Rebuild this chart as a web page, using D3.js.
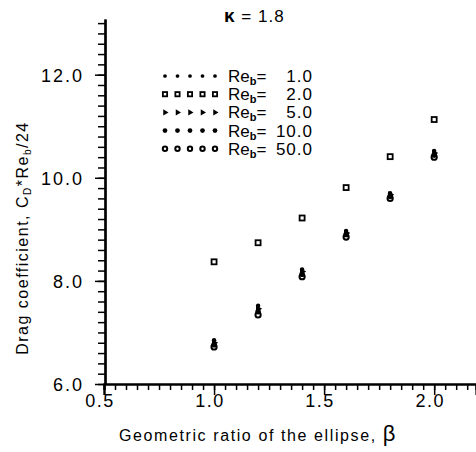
<!DOCTYPE html>
<html>
<head>
<meta charset="utf-8">
<script src="https://cdn.jsdelivr.net/npm/d3@7"></script>
<style>
body { margin: 0; background: #fff; }
svg { font-family: "Liberation Sans", Arial, sans-serif; }
</style>
</head>
<body>
<svg width="476" height="452"></svg>
<script>
// geometric ratio of the ellipse
const betas = [1.0, 1.2, 1.4, 1.6, 1.8, 2.0];
const reLabels = ['1.0', '2.0', '5.0', '10.0', '50.0'];
const re1 = [6.85, 7.52, 8.22, 8.97, 9.70, 10.52];
const re2 = [8.37, 8.74, 9.22, 9.81, 10.41, 11.13];
const re5 = [6.80, 7.46, 8.18, 8.93, 9.67, 10.48];
const re10 = [6.76, 7.40, 8.13, 8.90, 9.64, 10.44];
const re50 = [6.72, 7.34, 8.08, 8.85, 9.60, 10.40];
const xTicks = [0.5, 1.0, 1.5, 2.0];
const xTickLabels = ['0.5', '1.0', '1.5', '2.0'];
const yTicks = [6, 8, 10, 12];

const series = [re1, re2, re5, re10, re50];
const markerKind = ['dot', 'square', 'tri', 'disc', 'ring'];

const svg = d3.select('svg');
const x = d3.scaleLinear().domain([0.5, 2.19]).range([104, 476]);
const y = d3.scaleLinear().domain([6, 13.08]).range([384, 19]);

// axes
const xAxis = svg.append('g').attr('transform', 'translate(0,384)');
xAxis.call(d3.axisBottom(x).tickValues(d3.range(0.5, 2.19, 0.05)).tickSize(6).tickFormat(''));
xAxis.append('g').call(d3.axisBottom(x).tickValues(xTicks).tickSize(11).tickFormat(''));
xAxis.selectAll('.domain').attr('stroke-width', 2.2);
xAxis.selectAll('line').attr('stroke-width', 1.5);

const yAxis = svg.append('g').attr('transform', 'translate(105,0)');
yAxis.call(d3.axisLeft(y).tickValues(d3.range(6, 13.01, 0.2)).tickSize(7).tickFormat('').tickSizeOuter(0));
yAxis.append('g').call(d3.axisLeft(y).tickValues(yTicks).tickSize(10).tickFormat('').tickSizeOuter(0));
yAxis.selectAll('.domain').attr('stroke-width', 2.2);
yAxis.selectAll('line').attr('stroke-width', 1.5);

svg.selectAll('.xlab').data(xTicks).join('text')
    .attr('x', d => x(d) - 4).attr('y', 407)
    .attr('text-anchor', 'middle').attr('font-size', 18).attr('letter-spacing', 1.5)
    .text((d, i) => xTickLabels[i]);

svg.selectAll('.ylab').data(yTicks).join('text')
    .attr('x', 84).attr('y', d => y(d) + 7)
    .attr('text-anchor', 'end').attr('font-size', 18).attr('letter-spacing', 2)
    .text(d => d.toFixed(1));

// axis titles
svg.append('text').attr('x', 119).attr('y', 441).attr('font-size', 16)
    .attr('letter-spacing', 1.6)
    .text('Geometric ratio of the ellipse, ')
    .append('tspan').attr('font-size', 22).text('β');

const yt = svg.append('text').attr('transform', 'translate(28,238) rotate(-90)')
    .attr('text-anchor', 'middle').attr('font-size', 16).attr('letter-spacing', 1.5);
yt.append('tspan').text('Drag coefficient,  C');
yt.append('tspan').attr('font-size', 10).attr('dy', 3).text('D');
yt.append('tspan').attr('dy', -3).text('*Re');
yt.append('tspan').attr('font-size', 10).attr('dy', 3).text('b');
yt.append('tspan').attr('dy', -3).text('/24');

// title
const tt = svg.append('text').attr('x', 224).attr('y', 22).attr('font-size', 17).attr('letter-spacing', 1);
tt.append('tspan').attr('font-weight', 'bold').attr('font-size', 19).text('κ');
tt.append('tspan').text(' = 1.8');

function drawMarker(g, kind, size) {
    const s = size || 1;
    if (kind == 'dot') {
        g.append('circle').attr('r', 2.2 * s).attr('fill', '#000');
    } else if (kind == 'square') {
        g.append('rect').attr('x', -2.5 * s).attr('y', -2.5 * s).attr('width', 5 * s).attr('height', 5 * s)
            .attr('fill', 'none').attr('stroke', '#000').attr('stroke-width', 1.8);
    } else if (kind == 'tri') {
        g.append('path').attr('d', d3.symbol(d3.symbolTriangle, 22 * s * s)).attr('transform', 'rotate(90)').attr('fill', '#000');
    } else if (kind == 'disc') {
        g.append('circle').attr('r', 2.8 * s).attr('fill', '#000');
    } else {
        g.append('circle').attr('r', 2.6 * s).attr('fill', 'none').attr('stroke', '#000').attr('stroke-width', 2);
    }
}

// data points
series.forEach((vals, k) => {
    svg.append('g').selectAll('g').data(vals).join('g')
        .attr('transform', (d, i) => `translate(${x(betas[i])},${y(d)})`)
        .each(function () { drawMarker(d3.select(this), markerKind[k], 1.0); });
});

// legend
const legend = svg.append('g');
reLabels.forEach((lab, k) => {
    const ly = 76 + k * 18.2;
    for (let j = 0; j < 5; j++) {
        const g = legend.append('g').attr('transform', `translate(${165 + j * 12.5},${ly})`);
        drawMarker(g, markerKind[k], 0.85);
    }
    const t = legend.append('text').attr('x', 228).attr('y', ly + 6).attr('font-size', 17);
    t.append('tspan').text('Re');
    t.append('tspan').attr('font-size', 11).attr('dy', 3).attr('font-weight', 'bold').text('b');
    t.append('tspan').attr('dy', -3).text('=');
    t.append('tspan').attr('x', 313).attr('text-anchor', 'end').attr('letter-spacing', 1).text(lab);
});
</script>
</body>
</html>
